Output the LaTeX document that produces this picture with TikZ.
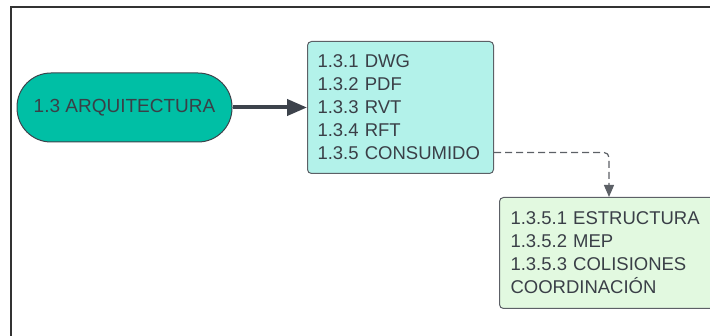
\documentclass[tikz,border=0pt]{standalone}
\usepackage{fontspec}
\setmainfont{Liberation Sans}
\usetikzlibrary{arrows.meta,calc}
\definecolor{txt}{HTML}{3A3F47}
\definecolor{teal}{HTML}{00BFA5}
\definecolor{cyanbox}{HTML}{B3F2EA}
\definecolor{greenbox}{HTML}{E2F9E0}
\definecolor{edge}{HTML}{5C6066}
\definecolor{arrowc}{HTML}{3D434C}
\tikzset{
  listbox/.style={draw=edge, line width=1pt, rounded corners=4pt, align=left,
    text=txt, font=\fontsize{18.5pt}{23pt}\selectfont, inner xsep=10pt, anchor=north west},
  pill/.style={draw=arrowc, line width=1pt, fill=teal, rounded corners=34pt,
    minimum width=215pt, minimum height=69pt, text=txt, font=\fontsize{19pt}{23pt}\selectfont},
  mainarrow/.style={draw=arrowc, line width=4pt, -{Triangle[length=20pt,width=16pt]}},
  dasharrow/.style={draw=edge, line width=1.2pt, dash pattern=on 7pt off 4pt, rounded corners=5pt,
    -{Triangle[length=12pt,width=10pt]}}
}
\begin{document}
\begin{tikzpicture}[x=1pt,y=-1pt]
\useasboundingbox (0,0) rectangle (710,336);
\clip (0,0) rectangle (710,336);
\draw[line width=1.5pt, draw=black!80] (11,340) -- (11,7) -- (715,7);
\node[pill] (arq) at (124.5,107.5) {1.3 ARQUITECTURA};
\node[listbox, fill=cyanbox, text width=166pt, minimum height=132pt] (fmt) at (307,41)
  {1.3.1 DWG\\1.3.2 PDF\\1.3.3 RVT\\1.3.4 RFT\\1.3.5 CONSUMIDO};
\node[listbox, fill=greenbox, text width=197pt, minimum height=111pt, inner xsep=11pt] (sub) at (499,197)
  {1.3.5.1 ESTRUCTURA\\1.3.5.2 MEP\\1.3.5.3 COLISIONES\\COORDINACIÓN};
\draw[mainarrow] (arq.east) -- (fmt.west |- arq.east);
\coordinate (dstart) at ([yshift=-45pt]fmt.east);
\draw[dasharrow] (dstart) -| (sub.north);
\end{tikzpicture}
\end{document}
